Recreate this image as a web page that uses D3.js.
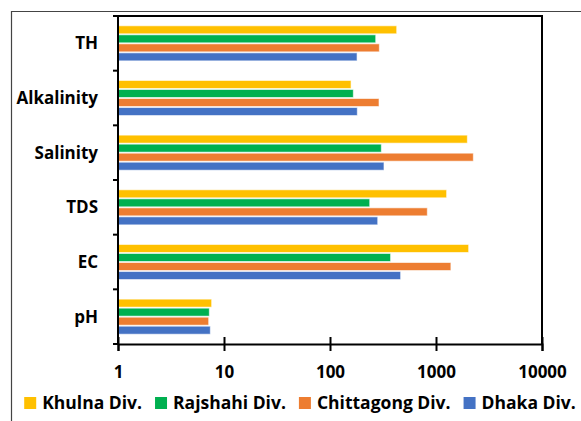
<!DOCTYPE html>
<html>
<head>
<meta charset="utf-8">
<script src="https://cdn.jsdelivr.net/npm/d3@7"></script>
<style>
  body { margin: 0; background: #fff; }
  svg { display: block; font-family: "Open Sans", sans-serif; font-weight: bold; }
</style>
</head>
<body>
<svg id="chart" width="581" height="421"></svg>
<script>
// categories top to bottom
const parameters = ['TH', 'Alkalinity', 'Salinity', 'TDS', 'EC', 'pH'];
const divisions = ['Khulna Div.', 'Rajshahi Div.', 'Chittagong Div.', 'Dhaka Div.'];
const colors = ['#FFC000', '#00B050', '#ED7D31', '#4472C4'];

// values per parameter, same order as parameters
const khulna = [426, 158, 1976, 1260, 2033, 7.65];
const rajshahi = [270, 166, 305, 237, 373, 7.27];
const chittagong = [292, 290, 2250, 828, 1382, 7.17];
const dhaka = [180, 181, 323, 282, 464, 7.43];
const xTicks = [1, 10, 100, 1000, 10000];

const seriesValues = [khulna, rajshahi, chittagong, dhaka];

const svg = d3.select('#chart');

// outer frame (figure border, partly cropped)
svg.append('path')
  .attr('d', 'M11.5,421 V11.5 H581')
  .attr('fill', 'none')
  .attr('stroke', '#444')
  .attr('stroke-width', 1.2);

const margin = { top: 16, right: 39, bottom: 77, left: 118 };
const width = 581 - margin.left - margin.right;
const height = 421 - margin.top - margin.bottom;

const g = svg.append('g')
  .attr('transform', `translate(${margin.left},${margin.top})`);

const x = d3.scaleLog().domain([1, 10000]).range([0, width]);

const y = d3.scaleBand()
  .domain(parameters)
  .range([0, height])
  .paddingInner(0.34)
  .paddingOuter(0.17);

const ySub = d3.scaleBand()
  .domain(divisions)
  .range([0, y.bandwidth()]);

// bars
const rows = [];
parameters.forEach((p, i) => {
  divisions.forEach((dv, j) => {
    rows.push({ param: p, div: dv, value: seriesValues[j][i], color: colors[j] });
  });
});

g.selectAll('.bar')
  .data(rows)
  .enter()
  .append('rect')
  .attr('class', 'bar')
  .attr('x', x(1))
  .attr('y', (d) => y(d.param) + ySub(d.div) + 0.5)
  .attr('width', (d) => x(d.value) - x(1))
  .attr('height', ySub.bandwidth() - 1)
  .attr('fill', (d) => d.color)
  .attr('stroke', '#fff')
  .attr('stroke-opacity', 0.6)
  .attr('stroke-width', 1);

// top and right border of the plot box
g.append('path')
  .attr('d', `M0,0 H${width} V${height}`)
  .attr('fill', 'none')
  .attr('stroke', '#000')
  .attr('stroke-width', 2);

// x axis
const xAxis = g.append('g')
  .attr('transform', `translate(0,${height})`)
  .call(d3.axisBottom(x).tickValues(xTicks).tickFormat(d3.format('d')).tickSize(7));

xAxis.select('.domain').attr('stroke', '#000').attr('stroke-width', 2);
xAxis.selectAll('.tick line').attr('y1', -7).attr('y2', 7).attr('stroke-width', 2);
xAxis.selectAll('.tick text')
  .attr('y', 22)
  .attr('dy', '0.71em')
  .attr('fill', '#000')
  .style('font-size', '17px')
  .style('font-family', '"Open Sans", sans-serif')
  .style('font-weight', 'bold');

// y axis line
g.append('line')
  .attr('x1', 0).attr('x2', 0)
  .attr('y1', 0).attr('y2', height)
  .attr('stroke', '#000')
  .attr('stroke-width', 2);

// category boundary ticks
const bounds = d3.range(parameters.length + 1).map((i) => i * y.step());
g.selectAll('.ytick')
  .data(bounds)
  .enter()
  .append('line')
  .attr('x1', -5).attr('x2', 0)
  .attr('y1', (d) => d).attr('y2', (d) => d)
  .attr('stroke', '#000')
  .attr('stroke-width', 2);

// category labels
g.selectAll('.ylabel')
  .data(parameters)
  .enter()
  .append('text')
  .attr('x', -20)
  .attr('y', (d) => y(d) + y.bandwidth() / 2)
  .attr('dy', '0.35em')
  .attr('text-anchor', 'end')
  .style('font-size', '17px')
  .text((d) => d);

// legend
const legend = svg.append('g');
const items = legend.selectAll('.item')
  .data(divisions)
  .enter()
  .append('g');

items.append('rect')
  .attr('width', 12)
  .attr('height', 12)
  .attr('y', -12)
  .attr('fill', (d, i) => colors[i]);

items.append('text')
  .attr('x', 18)
  .attr('y', 0)
  .style('font-size', '17.5px')
  .text((d) => d);

let offset = 0;
items.each(function () {
  const w = d3.select(this).select('text').node().getComputedTextLength();
  d3.select(this).attr('transform', `translate(${offset},0)`);
  offset += 18 + w + 13;
});
const legendWidth = offset - 13;
legend.attr('transform', `translate(${300 - legendWidth / 2},409)`);
</script>
</body>
</html>
